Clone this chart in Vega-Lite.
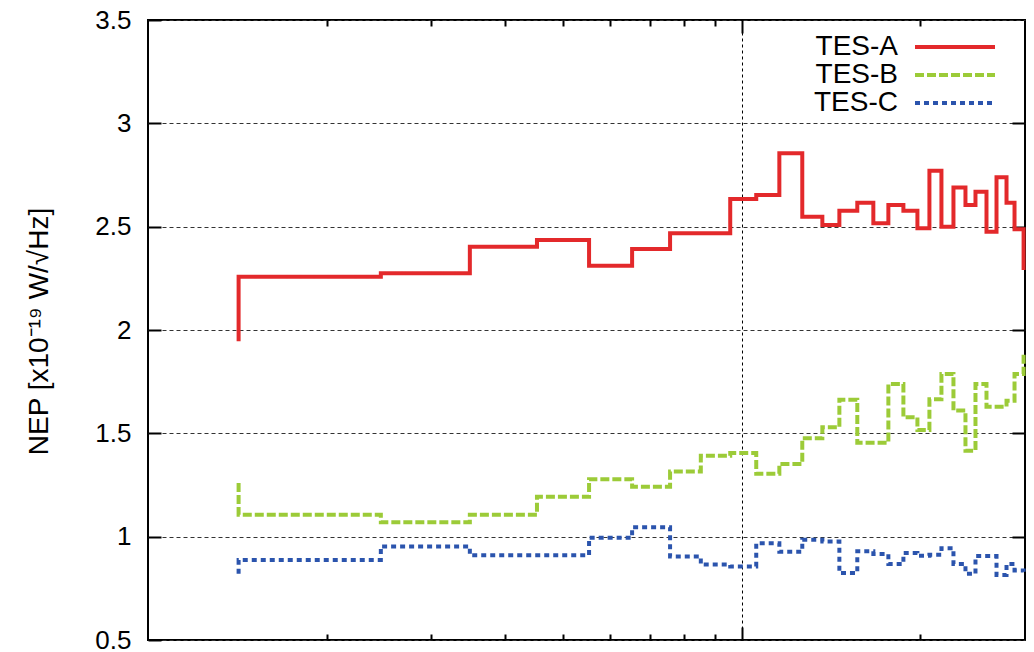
{
  "$schema": "https://vega.github.io/schema/vega-lite/v6.json",
  "width": 877,
  "height": 620,
  "autosize": {"type": "none"},
  "padding": {"left": 148, "top": 20, "right": 9, "bottom": 12},
  "background": "white",
  "config": {
    "font": "Liberation Sans",
    "view": {"stroke": "black", "strokeWidth": 2},
    "axis": {"domain": false, "labelColor": "black", "titleColor": "black", "tickColor": "black", "tickWidth": 2}
  },
  "data": {
    "values": [
      {"series": "TES-A", "i": 1, "f": 1.421, "nep": 1.945},
      {"series": "TES-A", "i": 2, "f": 1.421, "nep": 2.258},
      {"series": "TES-A", "i": 3, "f": 2.467, "nep": 2.274},
      {"series": "TES-A", "i": 4, "f": 3.484, "nep": 2.403},
      {"series": "TES-A", "i": 5, "f": 4.52, "nep": 2.436},
      {"series": "TES-A", "i": 6, "f": 5.532, "nep": 2.311},
      {"series": "TES-A", "i": 7, "f": 6.537, "nep": 2.392},
      {"series": "TES-A", "i": 8, "f": 7.574, "nep": 2.468},
      {"series": "TES-A", "i": 9, "f": 8.533, "nep": 2.468},
      {"series": "TES-A", "i": 10, "f": 9.564, "nep": 2.634},
      {"series": "TES-A", "i": 11, "f": 10.579, "nep": 2.653},
      {"series": "TES-A", "i": 12, "f": 11.571, "nep": 2.855},
      {"series": "TES-A", "i": 13, "f": 12.647, "nep": 2.548},
      {"series": "TES-A", "i": 14, "f": 13.671, "nep": 2.508},
      {"series": "TES-A", "i": 15, "f": 14.604, "nep": 2.577},
      {"series": "TES-A", "i": 16, "f": 15.655, "nep": 2.616},
      {"series": "TES-A", "i": 17, "f": 16.66, "nep": 2.516},
      {"series": "TES-A", "i": 18, "f": 17.66, "nep": 2.605},
      {"series": "TES-A", "i": 19, "f": 18.72, "nep": 2.577},
      {"series": "TES-A", "i": 20, "f": 19.766, "nep": 2.492},
      {"series": "TES-A", "i": 21, "f": 20.708, "nep": 2.771},
      {"series": "TES-A", "i": 22, "f": 21.696, "nep": 2.5},
      {"series": "TES-A", "i": 23, "f": 22.731, "nep": 2.689},
      {"series": "TES-A", "i": 24, "f": 23.815, "nep": 2.605},
      {"series": "TES-A", "i": 25, "f": 24.758, "nep": 2.669},
      {"series": "TES-A", "i": 26, "f": 25.838, "nep": 2.476},
      {"series": "TES-A", "i": 27, "f": 26.862, "nep": 2.739},
      {"series": "TES-A", "i": 28, "f": 27.925, "nep": 2.616},
      {"series": "TES-A", "i": 29, "f": 28.806, "nep": 2.487},
      {"series": "TES-A", "i": 30, "f": 29.837, "nep": 2.29},

      {"series": "TES-B", "i": 1, "f": 1.421, "nep": 1.26},
      {"series": "TES-B", "i": 2, "f": 1.421, "nep": 1.106},
      {"series": "TES-B", "i": 3, "f": 2.467, "nep": 1.07},
      {"series": "TES-B", "i": 4, "f": 3.484, "nep": 1.106},
      {"series": "TES-B", "i": 5, "f": 4.52, "nep": 1.193},
      {"series": "TES-B", "i": 6, "f": 5.532, "nep": 1.278},
      {"series": "TES-B", "i": 7, "f": 6.537, "nep": 1.242},
      {"series": "TES-B", "i": 8, "f": 7.574, "nep": 1.315},
      {"series": "TES-B", "i": 9, "f": 8.533, "nep": 1.392},
      {"series": "TES-B", "i": 10, "f": 9.564, "nep": 1.405},
      {"series": "TES-B", "i": 11, "f": 10.579, "nep": 1.304},
      {"series": "TES-B", "i": 12, "f": 11.571, "nep": 1.352},
      {"series": "TES-B", "i": 13, "f": 12.647, "nep": 1.476},
      {"series": "TES-B", "i": 14, "f": 13.671, "nep": 1.529},
      {"series": "TES-B", "i": 15, "f": 14.604, "nep": 1.662},
      {"series": "TES-B", "i": 16, "f": 15.655, "nep": 1.455},
      {"series": "TES-B", "i": 17, "f": 16.66, "nep": 1.455},
      {"series": "TES-B", "i": 18, "f": 17.66, "nep": 1.739},
      {"series": "TES-B", "i": 19, "f": 18.72, "nep": 1.578},
      {"series": "TES-B", "i": 20, "f": 19.766, "nep": 1.516},
      {"series": "TES-B", "i": 21, "f": 20.708, "nep": 1.665},
      {"series": "TES-B", "i": 22, "f": 21.696, "nep": 1.787},
      {"series": "TES-B", "i": 23, "f": 22.731, "nep": 1.61},
      {"series": "TES-B", "i": 24, "f": 23.815, "nep": 1.416},
      {"series": "TES-B", "i": 25, "f": 24.758, "nep": 1.739},
      {"series": "TES-B", "i": 26, "f": 25.838, "nep": 1.629},
      {"series": "TES-B", "i": 27, "f": 26.862, "nep": 1.629},
      {"series": "TES-B", "i": 28, "f": 27.925, "nep": 1.658},
      {"series": "TES-B", "i": 29, "f": 28.806, "nep": 1.787},
      {"series": "TES-B", "i": 30, "f": 29.837, "nep": 1.895},

      {"series": "TES-C", "i": 1, "f": 1.421, "nep": 0.82},
      {"series": "TES-C", "i": 2, "f": 1.421, "nep": 0.887},
      {"series": "TES-C", "i": 3, "f": 2.467, "nep": 0.953},
      {"series": "TES-C", "i": 4, "f": 3.484, "nep": 0.91},
      {"series": "TES-C", "i": 5, "f": 4.52, "nep": 0.91},
      {"series": "TES-C", "i": 6, "f": 5.532, "nep": 0.995},
      {"series": "TES-C", "i": 7, "f": 6.537, "nep": 1.046},
      {"series": "TES-C", "i": 8, "f": 7.574, "nep": 0.904},
      {"series": "TES-C", "i": 9, "f": 8.533, "nep": 0.865},
      {"series": "TES-C", "i": 10, "f": 9.564, "nep": 0.856},
      {"series": "TES-C", "i": 11, "f": 10.579, "nep": 0.968},
      {"series": "TES-C", "i": 12, "f": 11.571, "nep": 0.927},
      {"series": "TES-C", "i": 13, "f": 12.647, "nep": 0.985},
      {"series": "TES-C", "i": 14, "f": 13.671, "nep": 0.977},
      {"series": "TES-C", "i": 15, "f": 14.604, "nep": 0.824},
      {"series": "TES-C", "i": 16, "f": 15.655, "nep": 0.929},
      {"series": "TES-C", "i": 17, "f": 16.66, "nep": 0.916},
      {"series": "TES-C", "i": 18, "f": 17.66, "nep": 0.868},
      {"series": "TES-C", "i": 19, "f": 18.72, "nep": 0.921},
      {"series": "TES-C", "i": 20, "f": 19.766, "nep": 0.908},
      {"series": "TES-C", "i": 21, "f": 20.708, "nep": 0.912},
      {"series": "TES-C", "i": 22, "f": 21.696, "nep": 0.944},
      {"series": "TES-C", "i": 23, "f": 22.731, "nep": 0.868},
      {"series": "TES-C", "i": 24, "f": 23.815, "nep": 0.82},
      {"series": "TES-C", "i": 25, "f": 24.758, "nep": 0.906},
      {"series": "TES-C", "i": 26, "f": 25.838, "nep": 0.906},
      {"series": "TES-C", "i": 27, "f": 26.862, "nep": 0.815},
      {"series": "TES-C", "i": 28, "f": 27.925, "nep": 0.868},
      {"series": "TES-C", "i": 29, "f": 28.806, "nep": 0.836},
      {"series": "TES-C", "i": 30, "f": 29.837, "nep": 0.83}
    ]
  },
  "layer": [
    {
      "mark": {"type": "line", "interpolate": "step-after", "strokeWidth": 4, "strokeCap": "butt", "strokeJoin": "miter"},
      "encoding": {
        "x": {
          "field": "f", "type": "quantitative",
          "scale": {"type": "log", "domain": [1, 30], "nice": false},
          "axis": {
            "orient": "bottom", "title": null, "labels": false,
            "values": [2, 3, 4, 5, 6, 7, 8, 9, 10, 20],
            "tickSize": {"condition": {"test": "datum.value === 10", "value": -13}, "value": -6},
            "grid": true, "gridColor": "black", "gridDash": [3, 3], "gridWidth": 1,
            "gridOpacity": {"condition": {"test": "datum.value === 10", "value": 1}, "value": 0}
          }
        },
        "y": {
          "field": "nep", "type": "quantitative",
          "scale": {"domain": [0.5, 3.5], "nice": false, "zero": false},
          "axis": {
            "orient": "left",
            "values": [0.5, 1, 1.5, 2, 2.5, 3, 3.5],
            "format": "~g",
            "tickSize": -13, "labelPadding": 30, "labelFontSize": 26,
            "grid": true, "gridColor": "#333333", "gridDash": [4, 3], "gridWidth": 1,
            "title": "NEP [x10⁻¹⁹ W/√Hz]", "titleFontSize": 28, "titleFontWeight": "normal",
            "titleAngle": 270, "titleX": -101, "titleY": 311,
            "titleAlign": "center", "titleBaseline": "alphabetic"
          }
        },
        "order": {"field": "i", "type": "quantitative"},
        "color": {
          "field": "series", "type": "nominal",
          "scale": {"domain": ["TES-A", "TES-B", "TES-C"], "range": ["#e3292b", "#9ccb38", "#2b54ad"]},
          "legend": {
            "orient": "none", "legendX": 793, "legendY": 13, "title": null, "padding": 0,
            "symbolType": "M-4,0H4", "symbolSize": 400, "symbolStrokeWidth": 4,
            "labelFontSize": 28, "labelColor": "black", "labelAlign": "right", "labelOffset": -71,
            "rowPadding": 0
          }
        },
        "strokeDash": {
          "field": "series", "type": "nominal",
          "scale": {"domain": ["TES-A", "TES-B", "TES-C"], "range": [[1, 0], [9, 3], [5, 4]]},
          "legend": {
            "orient": "none", "legendX": 793, "legendY": 13, "title": null, "padding": 0,
            "symbolType": "M-4,0H4", "symbolSize": 400, "symbolStrokeWidth": 4,
            "labelFontSize": 28, "labelColor": "black", "labelAlign": "right", "labelOffset": -71,
            "rowPadding": 0
          }
        }
      }
    },
    {
      "mark": {"type": "line", "opacity": 0},
      "encoding": {
        "x": {
          "field": "f", "type": "quantitative",
          "scale": {"type": "log", "domain": [1, 30], "nice": false},
          "axis": {
            "orient": "top", "title": null, "labels": false, "grid": false,
            "values": [2, 3, 4, 5, 6, 7, 8, 9, 10, 20],
            "tickSize": {"condition": {"test": "datum.value === 10", "value": -13}, "value": -6}
          }
        },
        "y": {
          "field": "nep", "type": "quantitative",
          "scale": {"domain": [0.5, 3.5], "nice": false, "zero": false},
          "axis": {
            "orient": "right", "title": null, "labels": false, "grid": false,
            "values": [1, 1.5, 2, 2.5, 3], "tickSize": -13
          }
        },
        "detail": {"field": "series", "type": "nominal"},
        "order": {"field": "i", "type": "quantitative"}
      }
    }
  ],
  "resolve": {"axis": {"x": "independent", "y": "independent"}}
}
